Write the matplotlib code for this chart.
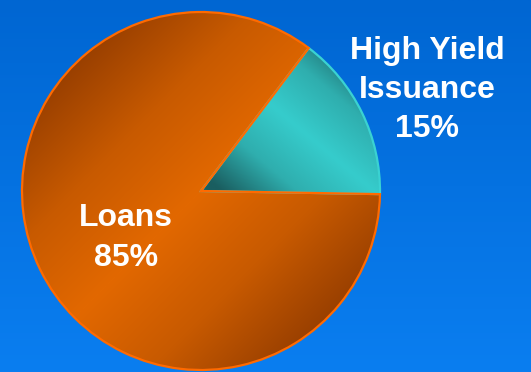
import numpy as np
import matplotlib
matplotlib.use("Agg")
import matplotlib.pyplot as plt
from matplotlib.colors import LinearSegmentedColormap

# share of issuance
labels = ["High Yield\nIssuance", "Loans"]
shares = [15, 85]

W, H = 531, 372
CX, CY, R = 201, 181, 179


def gradient_fill(ax, wedge, value, cmap, extent):
    """Paint a gradient image clipped to a wedge."""
    img = ax.imshow(value, cmap=cmap, vmin=0, vmax=1, extent=extent,
                    origin="lower", interpolation="bilinear", zorder=2)
    img.set_clip_path(wedge)


fig = plt.figure(figsize=(W / 100, H / 100), dpi=100)
ax = fig.add_axes([0, 0, 1, 1])

# blue background, a little lighter towards the bottom
bg = LinearSegmentedColormap.from_list("bg", ["#0a7ef0", "#0066d2"])
ax.imshow(np.linspace(0, 1, 200).reshape(-1, 1), cmap=bg, extent=(0, W, 0, H),
          origin="lower", aspect="auto", zorder=0)

wedges, _ = ax.pie(shares, center=(CX, CY), radius=R, startangle=-1,
                   counterclock=True, frame=True,
                   colors=["#33cccc", "#e06400"],
                   wedgeprops=dict(linewidth=1.6, zorder=1))
wedges[0].set_edgecolor("#3ad2d2")
wedges[1].set_edgecolor("#ff6a00")

# orange wedge: light band along the rising diagonal, darker toward the corners
n = 400
xs = np.linspace(CX - R, CX + R, n)
ys = np.linspace(CY - R, CY + R, n)
X, Y = np.meshgrid(xs, ys)
d = np.abs((X - CX) - (Y - CY)) / (np.sqrt(2) * R)
orange = LinearSegmentedColormap.from_list("orange", ["#e26800", "#c85a00", "#9a4000"])
gradient_fill(ax, wedges[1], np.clip(d, 0, 1), orange,
              (CX - R, CX + R, CY - R, CY + R))

# teal wedge: bright along its falling diagonal, dark at the centre point
x0, x1 = CX, CX + R
y0, y1 = CY - 5, CY + R * np.sin(np.radians(54))
xs = np.linspace(x0, x1, n)
ys = np.linspace(y0, y1, n)
X, Y = np.meshgrid(xs, ys)
u = (X - x0) / (x1 - x0)
v = (Y - y0) / (y1 - y0)
t = np.abs(u + v - 1) / 0.85
teal = LinearSegmentedColormap.from_list("teal", ["#36cccc", "#2faeae", "#1a5e60"])
gradient_fill(ax, wedges[0], np.clip(t, 0, 1), teal, (x0, x1, y0, y1))

for w in wedges:
    w.set_facecolor("none")
    w.set_zorder(3)

font = dict(family=["Liberation Sans", "DejaVu Sans"], fontweight="bold",
            color="white", fontsize=23, ha="center", va="center",
            linespacing=1.4, zorder=4)
ax.text(427, H - 90, f"{labels[0]}\n{shares[0]}%", **font)
ax.text(126, H - 238, f"{labels[1]}\n{shares[1]}%", **font)

ax.set_xlim(0, W)
ax.set_ylim(0, H)
ax.set_aspect("auto")
ax.axis("off")

fig.savefig("out.png", dpi=100)
